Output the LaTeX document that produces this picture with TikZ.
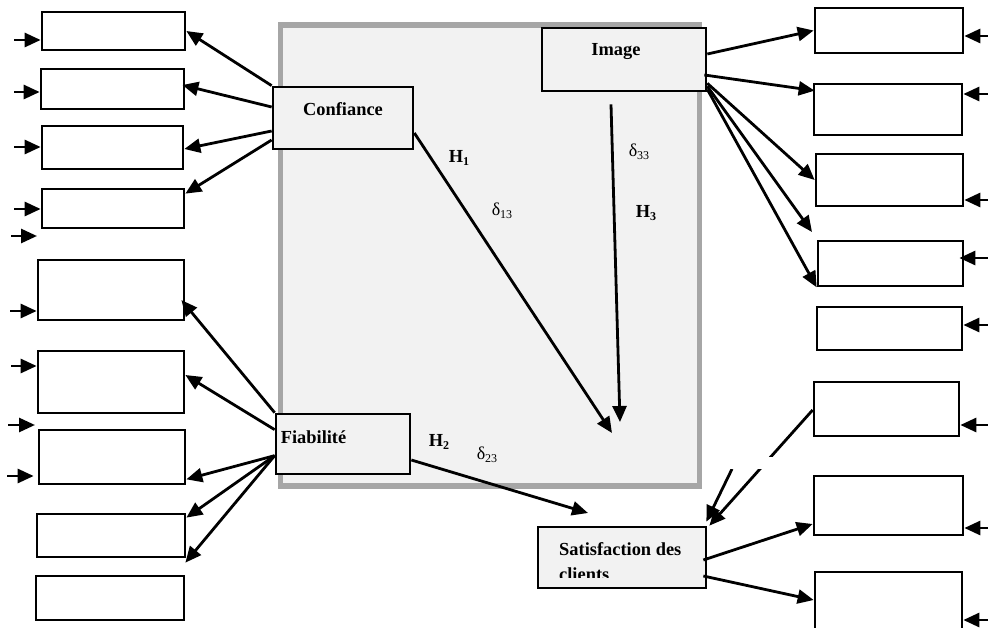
\documentclass[tikz,border=0pt]{standalone}
\usepackage{fontspec}
\setmainfont{Liberation Serif}
\usetikzlibrary{arrows.meta}
\definecolor{panel}{HTML}{F2F2F2}
\definecolor{framegray}{HTML}{A6A6A6}
\newcommand{\lbl}[2]{#1\raisebox{-3.5pt}{\fontsize{12}{12}\selectfont #2}}

\begin{document}
\begin{tikzpicture}[x=1pt, y=-1pt,
    item/.style 2 args={draw, line width=2.7pt, fill=white, minimum width=#1, minimum height=#2, inner sep=0pt},
    latent/.style 2 args={item={#1}{#2}, fill=panel},
    arr/.style={-{Triangle[length=16pt,width=14pt]}, line width=2.8pt},
    err/.style={{Triangle[length=16pt,width=14pt]}-, line width=2.8pt},
    tag/.style={font=\fontsize{18.4}{25}\selectfont\bfseries, inner sep=0pt},
    coef/.style={font=\fontsize{18}{22}\selectfont, inner sep=0pt}]
    \clip (0,0) rectangle (988,628);
    % grey panel
    \draw[framegray, line width=5.5pt, fill=panel] (280.5,25) rectangle (699.5,486);
    % indicators on the left
    \node[item={143pt}{38pt}] (l1) at (113.5,31) {};
    \node[item={143pt}{40pt}] (l2) at (112.5,89) {};
    \node[item={141pt}{43pt}] (l3) at (112.5,147.5) {};
    \node[item={142pt}{39pt}] (l4) at (113,208.5) {};
    \node[item={146pt}{60pt}] (l5) at (111,290) {};
    \node[item={146pt}{62pt}] (l6) at (111,382) {};
    \node[item={146pt}{54pt}] (l7) at (112,457) {};
    \node[item={148pt}{43pt}] (l8) at (111,535.5) {};
    \node[item={148pt}{44pt}] (l9) at (110,598) {};
    % indicators on the right
    \node[item={148pt}{45pt}] (r1) at (889,30.5) {};
    \node[item={148pt}{51pt}] (r2) at (888,109.5) {};
    \node[item={147pt}{52pt}] (r3) at (889.5,180) {};
    \node[item={145pt}{45pt}] (r4) at (890.5,263.5) {};
    \node[item={145pt}{43pt}] (r5) at (889.5,328.5) {};
    \node[item={145pt}{54pt}] (r6) at (886.5,409) {};
    \node[item={149pt}{59pt}] (r7) at (888.5,505.5) {};
    \node[item={147pt}{64pt}] (r8) at (888.5,604) {};
    % latent variables
    \node[latent={140pt}{62pt}, label={[tag, yshift=9pt]center:Confiance}] (conf) at (343,118) {};
    \node[latent={164pt}{63pt}, label={[tag, xshift=-8pt, yshift=8pt]center:Image}] (img) at (624,59.5) {};
    \node[latent={134pt}{60pt}, label={[tag, anchor=west, xshift=6pt, yshift=7pt]west:Fiabilité}] (fiab) at (343,444) {};
    \node[latent={168pt}{61pt}] (sat) at (622,557.5) {};
    \begin{scope}
        \clip (540,529) rectangle (704,577);
        \node[tag, align=left, anchor=north west] (sattxt) at (559,542) {Satisfaction des\\clients};
    \end{scope}
    % hypotheses
    \coordinate (h1end) at (612,433);
    \coordinate (h3end) at (620,422);
    \coordinate (h2end) at (588,513);
    \draw[arr] ([yshift=-15pt]conf.east) -- (h1end);
    \draw[arr] ([xshift=-13pt,yshift=-12pt]img.south) -- (h3end);
    \draw[arr] ([yshift=-16pt]fiab.east) -- (h2end);
    \node[tag] (h1) at (459,158) {\lbl{H}{1}};
    \node[coef] (d13) at (502,211) {\lbl{δ}{13}};
    \node[coef] (d33) at (639,152) {\lbl{δ}{33}};
    \node[tag] (h3) at (646,213) {\lbl{H}{3}};
    \node[tag] (h2) at (439,442) {\lbl{H}{2}};
    \node[coef] (d23) at (487,455) {\lbl{δ}{23}};
    % confiance loadings
    \draw[arr] (conf.north west) -- (l1.east);
    \draw[arr] ([yshift=11pt]conf.west) -- ([xshift=-3pt,yshift=4pt]l2.east);
    \draw[arr] ([yshift=-13pt]conf.west) -- ([yshift=-1.5pt]l3.east);
    \draw[arr] ([yshift=-22pt]conf.west) -- ([yshift=-6pt]l4.north east);
    % fiabilite loadings
    \draw[arr] (fiab.north west) -- ([xshift=-4pt,yshift=-10pt]l5.east);
    \draw[arr] ([yshift=-17pt]fiab.north west) -- ([yshift=7pt]l6.east);
    \draw[arr] ([yshift=-43pt]fiab.north west) -- ([yshift=6pt]l7.south east);
    \draw[arr] ([yshift=-43pt]fiab.north west) -- ([yshift=-5pt]l8.north east);
    \draw[arr] ([yshift=-43pt]fiab.north west) -- ([yshift=12pt]l9.north east);
    % image loadings
    \coordinate (r4x) at (812,232);
    \draw[arr] ([yshift=5.5pt]img.east) -- (r1.west);
    \draw[arr] ([xshift=-3pt,yshift=-15.5pt]img.east) -- ([xshift=2pt,yshift=-8pt]r2.north west);
    \draw[arr] ([yshift=9pt]img.south east) -- (r3.west);
    \draw[arr] ([yshift=6pt]img.south east) -- (r4x);
    \draw[arr] ([yshift=3pt]img.south east) -- (r4.south west);
    % satisfaction loadings
    \coordinate (satx) at (732,469);
    \draw[arr] ([xshift=-4pt,yshift=-2.5pt]sat.east) -- ([yshift=-18.5pt]r7.west);
    \draw[arr] ([xshift=-4pt,yshift=-18.5pt]sat.east) -- ([yshift=4pt]r8.west);
    \draw[arr] ([yshift=-1pt]r6.west) -- ([xshift=2pt]sat.north east);
    \draw[arr] (satx) -- ([xshift=-1pt,yshift=4pt]sat.north east);
    \fill[white] (722,457) rectangle (788,469);
    % error terms, left
    \coordinate (e1) at (37,236);
    \coordinate (e2) at (35,425);
    \draw[err] (l1.west |- 0,40) -- ++(-27,0);
    \draw[err] (l2.west |- 0,92) -- ++(-26,0);
    \draw[err] (l3.west |- 0,147) -- ++(-27,0);
    \draw[err] (l4.west |- 0,209) -- ++(-27,0);
    \draw[err] (e1) -- ++(-26,0);
    \draw[err] (l5.west |- 0,311) -- ++(-27,0);
    \draw[err] (l6.west |- 0,366) -- ++(-26,0);
    \draw[err] (e2) -- ++(-27,0);
    \draw[err] ([xshift=-4pt]l7.west |- 0,476) -- ++(-27,0);
    % error terms, right
    \draw[err] (r1.east |- 0,36) -- ++(30,0);
    \draw[err] (r2.east |- 0,94) -- ++(30,0);
    \draw[err] (r3.east |- 0,200) -- ++(30,0);
    \draw[err] ([xshift=-5pt]r4.east |- 0,258) -- ++(35,0);
    \draw[err] (r5.east |- 0,325) -- ++(30,0);
    \draw[err] (r6.east |- 0,425) -- ++(30,0);
    \draw[err] (r7.east |- 0,528) -- ++(30,0);
    \draw[err] (r8.east |- 0,620) -- ++(30,0);
\end{tikzpicture}
\end{document}
